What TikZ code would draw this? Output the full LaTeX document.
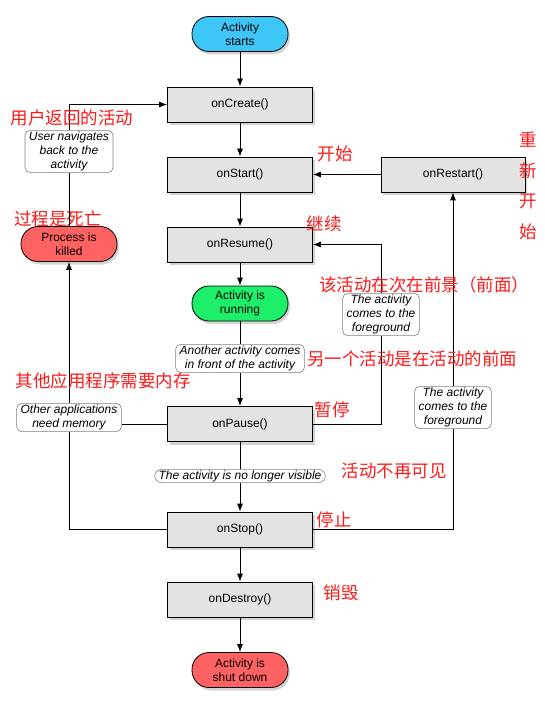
\documentclass[tikz,border=0pt]{standalone}
\usepackage{fontspec}
\setmainfont{Liberation Sans}
\newfontfamily\cjk{Noto Sans CJK SC}
\usetikzlibrary{shadows,arrows.meta}
\definecolor{startblue}{HTML}{3EC6F7}
\definecolor{runninggreen}{HTML}{1EEF6A}
\definecolor{killedred}{HTML}{FF6262}
\definecolor{boxgray}{HTML}{E3E3E3}
\definecolor{notered}{HTML}{FF1A1A}

\begin{document}
\begin{tikzpicture}[x=1pt,y=-1pt,>={Latex[length=8pt,width=6pt]},line width=0.8pt,
  state/.style={draw=black,fill=boxgray,minimum width=145pt,minimum height=35pt,
    font=\fontsize{12}{14}\selectfont,
    drop shadow={opacity=0.35,shadow xshift=2pt,shadow yshift=-3pt}},
  pill/.style={draw=black,rounded corners=17pt,minimum width=96pt,minimum height=35pt,
    align=center,inner sep=1pt,font=\fontsize{12}{14}\selectfont,
    drop shadow={opacity=0.35,shadow xshift=2pt,shadow yshift=-3pt}},
  why/.style={draw=gray,fill=white,rounded corners=5pt,align=center,
    inner xsep=4pt,inner ysep=1.5pt,line width=0.6pt,
    font=\itshape\fontsize{12}{14}\selectfont},
  cn/.style={text=notered,inner sep=0pt,font=\cjk\fontsize{17.5}{21}\selectfont}]
\useasboundingbox (0,0) rectangle (545,711);
	% red notes behind the pill
	\node[cn] (cnkilled) at (58,219) {过程是死亡};
	% main column
	\node[pill,fill=startblue] (start) at (240,34) {Activity\\starts};
	\node[state] (create) at (240,104.5) {onCreate()};
	\node[state] (startS) at (240,174.5) {onStart()};
	\node[state] (resume) at (240,244.5) {onResume()};
	\node[pill,fill=runninggreen] (running) at (240,303.5) {Activity is\\running};
	\node[state] (pause) at (240,424) {onPause()};
	\node[state] (stop) at (240,529.5) {onStop()};
	\node[state] (destroy) at (240,599.5) {onDestroy()};
	\node[pill,fill=killedred] (shutdown) at (240,670) {Activity is\\shut down};
	% side states
	\node[state,minimum width=144pt] (restart) at (453,174.5) {onRestart()};
	\node[pill,fill=killedred] (killed) at (69,244) {Process is\\killed};
	% labels on the connectors
	\node[why] (back) at (69,151.5) {User navigates\\back to the\\activity};
	\node[why] (apps) at (69,417.5) {Other applications\\need memory};
	\node[why] (fgA) at (381,314.5) {The activity\\comes to the\\foreground};
	\node[why] (fgB) at (453,407.5) {The activity\\comes to the\\foreground};
	\node[why] (another) at (240,358.5) {Another activity comes\\in front of the activity};
	\node[why,rounded corners=7pt,inner ysep=1pt] (novis) at (240,476) {The activity is no longer visible};
	% connectors
	\draw[->] (start) -- (create);
	\draw[->] (create) -- (startS);
	\draw[->] (startS) -- (resume);
	\draw[->] (resume) -- (running);
	\draw (running) -- (another);
	\draw[->] (another) -- (pause);
	\draw (pause) -- (novis);
	\draw[->] (novis) -- (stop);
	\draw[->] (stop) -- (destroy);
	\draw[->] (destroy) -- (shutdown);
	\draw[->] (restart) -- (startS);
	\draw (stop.east) -| (fgB.south);
	\draw[->] (fgB.north) -- (restart.south);
	\draw (pause.east) -| (fgA.south);
	\draw[->] (fgA.north) |- (resume.east);
	\draw (stop.west) -| (apps.south);
	\draw[->] (apps.north) -- (killed.south);
	\draw (pause.west) -- (pause.west -| apps.east);
	\draw (killed.north) -- (back.south);
	\draw[->] (back.north) |- (create.west);
	% red notes
	\node[cn] (cnback) at (72,118) {用户返回的活动};
	\node[cn] (cnstart) at (335,154) {开始};
	\node[cn,align=center,font=\cjk\fontsize{17.5}{30.7}\selectfont] (cnrestart) at (528,186) {重\\新\\开\\始};
	\node[cn] (cnresume) at (324,224) {继续};
	\node[cn] (cnfg) at (424,285) {该活动在次在前景（前面）};
	\node[cn] (cnanother) at (412,359) {另一个活动是在活动的前面};
	\node[cn] (cnapps) at (103,381) {其他应用程序需要内存};
	\node[cn] (cnpause) at (332,410) {暂停};
	\node[cn] (cnnovis) at (394,471) {活动不再可见};
	\node[cn] (cnstop) at (334,520) {停止};
	\node[cn] (cndestroy) at (341,593) {销毁};
\end{tikzpicture}
\end{document}
